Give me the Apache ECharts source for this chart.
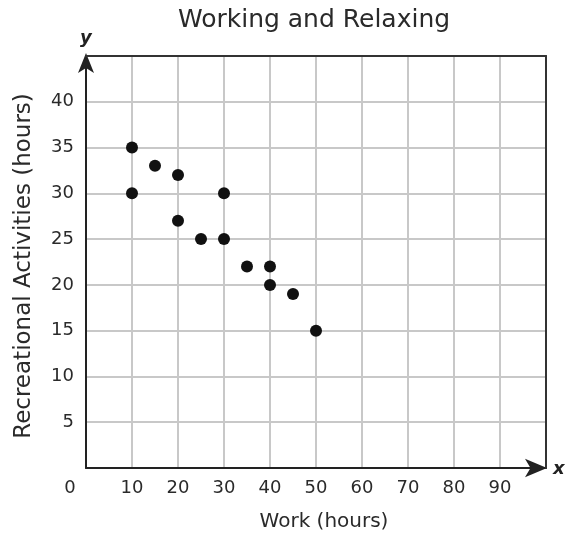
<!DOCTYPE html>
<html>
<head>
<meta charset="utf-8">
<script src="https://cdn.jsdelivr.net/npm/echarts@6/dist/echarts.min.js"></script>
<style>
html,body{margin:0;padding:0;background:#fff;}
#c{width:565px;height:540px;}
</style>
</head>
<body>
<div id="c"></div>
<script>
var titleText = 'Working and Relaxing';
var xName = 'Work (hours)';
var yName = 'Recreational Activities (hours)';
var workHours = [10, 10, 15, 20, 20, 25, 30, 30, 35, 40, 40, 45, 50];
var relaxHours = [35, 30, 33, 32, 27, 25, 30, 25, 22, 22, 20, 19, 15];
var xTicks = [0, 10, 20, 30, 40, 50, 60, 70, 80, 90];
var yTicks = [5, 10, 15, 20, 25, 30, 35, 40];

var points = workHours.map(function (w, i) { return [w, relaxHours[i]]; });
var font = 'DejaVu Sans';
var frameLine = {show: true, onZero: false, lineStyle: {color: '#333', width: 2}};
var chart = echarts.init(document.getElementById('c'), null, {renderer: 'canvas'});
chart.setOption({
  animation: false,
  backgroundColor: '#ffffff',
  title: {
    text: titleText,
    left: 309,
    top: 3,
    textAlign: 'center',
    textStyle: {fontFamily: font, fontSize: 25, fontWeight: 'normal', color: '#2a2a2a'}
  },
  grid: {left: 86, right: 19, top: 56, bottom: 72},
  xAxis: [{
    type: 'value', min: 0, max: 100, interval: 10,
    name: xName, nameLocation: 'middle', nameGap: 44,
    nameTextStyle: {fontFamily: font, fontSize: 20, color: '#2a2a2a', padding: [0, 0, 0, 16]},
    axisLine: {show: true, lineStyle: {color: '#222', width: 2},
      symbol: ['none', 'arrow'], symbolSize: [14, 22], symbolOffset: [0, 1]},
    axisTick: {show: false},
    splitLine: {show: true, lineStyle: {color: '#c8c8c8', width: 2}},
    axisLabel: {
      margin: 11, fontFamily: font, fontSize: 18, color: '#2a2a2a',
      formatter: function (v) {
        if (xTicks.indexOf(v) < 0) return '';
        if (v === 0) return '{z|0}';
        return String(v);
      },
      rich: {z: {fontFamily: font, fontSize: 18, color: '#2a2a2a', padding: [0, 32, 0, 0]}}
    },
    z: 3
  }, {
    type: 'value', position: 'top', min: 0, max: 100, interval: 10,
    axisLine: frameLine, axisTick: {show: false}, axisLabel: {show: false}, splitLine: {show: false},
    z: 4
  }],
  yAxis: [{
    type: 'value', min: 0, max: 45, interval: 5,
    name: yName, nameLocation: 'middle', nameGap: 50, nameRotate: 90,
    nameTextStyle: {fontFamily: font, fontSize: 23, color: '#2a2a2a', padding: [0, 8, 0, 0]},
    axisLine: {show: true, lineStyle: {color: '#222', width: 2},
      symbol: ['none', 'arrow'], symbolSize: [12, 20], symbolOffset: [0, 3]},
    axisTick: {show: false},
    splitLine: {show: true, lineStyle: {color: '#c8c8c8', width: 2}},
    axisLabel: {
      margin: 12, fontFamily: font, fontSize: 18, color: '#2a2a2a',
      formatter: function (v) { return yTicks.indexOf(v) < 0 ? '' : String(v); }
    },
    z: 3
  }, {
    type: 'value', position: 'right', min: 0, max: 45, interval: 5,
    axisLine: frameLine, axisTick: {show: false}, axisLabel: {show: false}, splitLine: {show: false},
    z: 4
  }],
  graphic: [
    {type: 'text', left: 80, top: 29, style: {text: 'y', font: 'italic bold 18px "DejaVu Sans"', fill: '#222'}},
    {type: 'text', left: 553, top: 460, style: {text: 'x', font: 'italic bold 18px "DejaVu Sans"', fill: '#222'}}
  ],
  series: [{
    type: 'scatter',
    data: points,
    symbol: 'circle',
    symbolSize: 12,
    itemStyle: {color: '#111', opacity: 1},
    z: 5
  }]
});
</script>
</body>
</html>
